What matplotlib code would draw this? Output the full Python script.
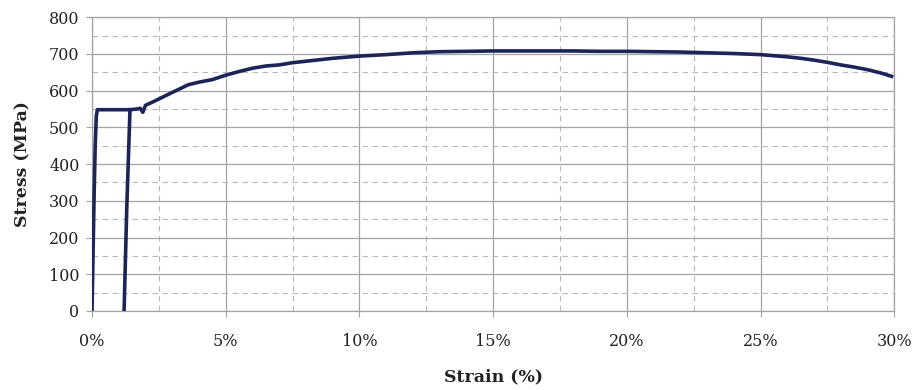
import matplotlib
matplotlib.use("Agg")
import matplotlib.pyplot as plt
from matplotlib.ticker import MultipleLocator, FuncFormatter

# Main stress-strain curve (strain in %, stress in MPa)
strain = [0.0, 0.03, 0.08, 0.12, 0.16, 0.2, 0.6, 1.0, 1.42, 1.7, 1.8, 1.9, 2.0, 2.3, 2.8, 3.2,
          3.6, 4.0, 4.5, 5.0, 5.5, 6.0, 6.5, 7.0, 7.5, 8.0, 9.0, 10.0, 11.0, 12.0, 13.0,
          14.0, 15.0, 16.0, 17.0, 18.0, 19.0, 20.0, 21.0, 22.0, 23.0, 24.0, 25.0, 26.0,
          26.5, 27.0, 27.5, 28.0, 28.5, 29.0, 29.5, 29.9]
stress = [0, 120, 320, 450, 530, 548, 548, 548, 548, 550, 552, 541, 560, 570, 588, 602,
          616, 623, 630, 642, 652, 661, 667, 670, 676, 680, 688, 694, 698, 703, 706,
          707, 708, 708, 708, 708, 707, 707, 706, 705, 703, 701, 698, 692,
          688, 683, 677, 670, 664, 657, 648, 639]

# Unloading / reloading segment
strain2 = [1.2, 1.3, 1.42]
stress2 = [0, 280, 548]

xticks = [0, 5, 10, 15, 20, 25, 30]
yticks = [0, 100, 200, 300, 400, 500, 600, 700, 800]

fig = plt.figure(figsize=(9.2, 3.9), dpi=100)
ax = fig.add_axes([0.1, 0.2026, 0.872, 0.7534])

line_color = "#1c2458"
ax.plot(strain, stress, color=line_color, lw=2.6, solid_joinstyle="round", zorder=3)
ax.plot(strain2, stress2, color=line_color, lw=2.6, zorder=3)

ax.set_xlim(0, 30)
ax.set_ylim(0, 800)
ax.set_xticks(xticks)
ax.set_yticks(yticks)
ax.xaxis.set_minor_locator(MultipleLocator(2.5))
ax.yaxis.set_minor_locator(MultipleLocator(50))
ax.xaxis.set_major_formatter(FuncFormatter(lambda v, p: f"{v:.0f}%"))

ax.grid(which="major", color="#a4a4a4", lw=0.9, ls="-", zorder=1)
ax.grid(which="minor", color="#b8b8b8", lw=0.8, ls=(0, (5, 4)), zorder=1)

for s in ax.spines.values():
    s.set_color("#a4a4a4")
    s.set_linewidth(0.9)

ax.tick_params(which="major", length=4, color="#a0a0a0", labelsize=11.5,
               labelcolor="#222222")
ax.tick_params(axis="x", which="major", pad=12)
ax.tick_params(axis="y", which="major", pad=5)
ax.tick_params(which="minor", length=0)
for lab in ax.get_xticklabels() + ax.get_yticklabels():
    lab.set_family("DejaVu Serif")

ax.set_xlabel("Strain (%)", family="DejaVu Serif", fontweight="bold", fontsize=12.5,
              color="#222222", labelpad=13)
ax.set_ylabel("Stress (MPa)", family="DejaVu Serif", fontweight="bold", fontsize=12.5,
              color="#222222", labelpad=13)

fig.savefig("out.png", dpi=100, facecolor="white")
